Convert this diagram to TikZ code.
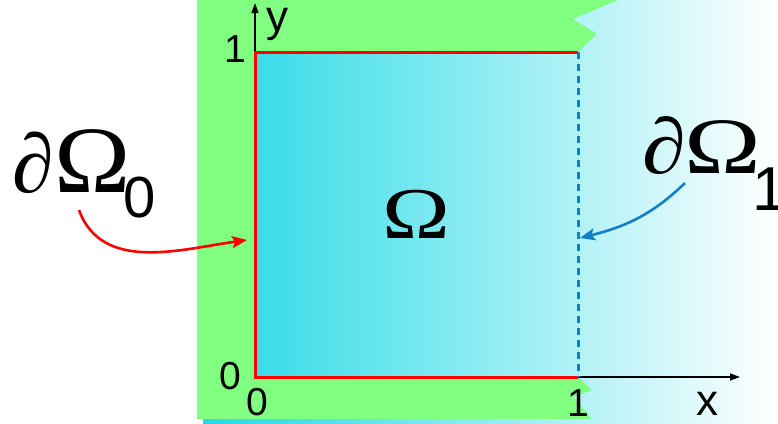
\documentclass[tikz,border=0pt]{standalone}
\usepackage{fontspec}
\setmainfont{Liberation Serif}
\newfontfamily\sansf{Liberation Sans}
\usetikzlibrary{arrows.meta}
\definecolor{gfill}{RGB}{128,255,128}
\definecolor{cyanL}{RGB}{36,217,230}
\definecolor{bdash}{RGB}{16,128,200}
\tikzset{
  axis/.style={line width=1.4pt,-{Triangle[length=10pt,width=7pt]}},
  redline/.style={red,line width=3pt},
  axlbl/.style={font=\sansf\fontsize{39}{39}\selectfont,anchor=base,inner sep=0pt},
  axlet/.style={font=\sansf\fontsize{44}{44}\selectfont,anchor=base,inner sep=0pt,text height=24pt,text depth=10pt},
  glyph/.style={anchor=base,inner sep=0pt},
  callout/.style={line width=2.6pt,-{Stealth[length=15pt,width=12pt,inset=3pt]}},
}
\begin{document}
\begin{tikzpicture}[x=1pt,y=-1pt]
\useasboundingbox (0,0) rectangle (778,423);
% background gradient
\fill[left color=cyanL,right color=white] (203,0) rectangle (778,423);
% green outside region
\fill[gfill,even odd rule] (197,0) -- (618,0) -- (573,19) -- (597,34) -- (578,52) -- (578,377) -- (592,390) -- (573,397) -- (592,419) -- (197,419) -- cycle
  (255,52) rectangle (578,377);
% axes
\coordinate (O) at (255,377);
\coordinate (ytip) at (255,3);
\coordinate (xtip) at (740,377);
\draw[axis] (O) -- (ytip);
\draw[axis] (O) -- (xtip);
% square boundary
\coordinate (TR) at (578,52);
\coordinate (TL) at (255,52);
\coordinate (BR) at (578,377);
\draw[redline] (TR) -- (TL) -- (O) -- (BR);
\draw[bdash,line width=3pt,dash pattern=on 7pt off 5pt] (TR) -- (BR);
% axis labels
\node[axlbl] (y1) at (235,62) {1};
\node[axlet] (ylab) at (277.5,31) {y};
\node[axlbl] (y0) at (230.5,389) {0};
\node[axlbl] (x0) at (257.5,415) {0};
\node[axlbl] (x1) at (578,416) {1};
\node[axlet] (xlab) at (707.5,415) {x};
% Omega
\node[glyph,font=\fontsize{73}{73}\selectfont] (om) at (416.5,238) {\scalebox{1.25}[1]{Ω}};
% dOmega_0
\node[anchor=base west,inner sep=0pt,font=\fontsize{84}{84}\selectfont] (d0) at (12,192) {∂};
\node[glyph,font=\fontsize{95}{95}\selectfont] (o0) at (92.5,192) {\scalebox{1.08}[1]{Ω}};
\node[glyph,font=\sansf\fontsize{58}{58}\selectfont] (s0) at (140,217) {0};
% dOmega_1
\node[anchor=base west,inner sep=0pt,font=\fontsize{79}{79}\selectfont] (d1) at (642,173) {\scalebox{1.12}[1]{∂}};
\node[glyph,font=\fontsize{80}{80}\selectfont] (o1) at (722.5,173) {\scalebox{1.29}[1]{Ω}};
\node[anchor=base west,inner sep=0pt,font=\sansf\fontsize{62}{62}\selectfont] (s1) at (752,210) {1};
% callout arrows
\coordinate (a0s) at (79,210);
\coordinate (a0e) at (247,240);
\draw[callout,red] (a0s) to[out=-70,in=188] (a0e);
\coordinate (a1s) at (685,183);
\coordinate (a1e) at (580,238);
\draw[callout,bdash] (a1s) to[out=-136,in=14] (a1e);
\end{tikzpicture}
\end{document}
